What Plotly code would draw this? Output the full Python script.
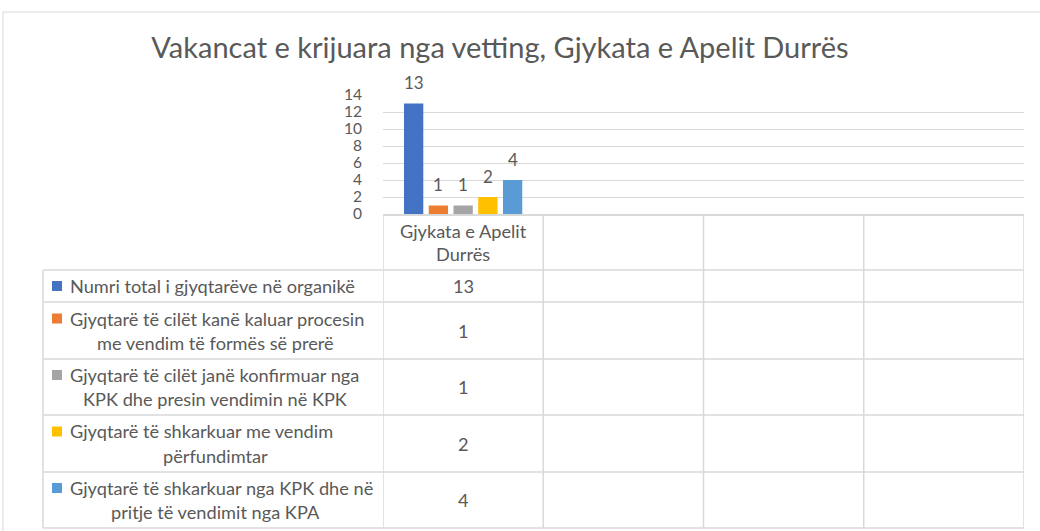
import plotly.graph_objects as go

# ---------------- data ----------------
title_text = "Vakancat e krijuara nga vetting, Gjykata e Apelit Durrës"
categories = ["Gjykata e Apelit\nDurrës", "", "", ""]
series_names = [
    "Numri total i gjyqtarëve në organikë",
    "Gjyqtarë të cilët kanë kaluar procesin\nme vendim të formës së prerë",
    "Gjyqtarë të cilët janë konfirmuar nga\nKPK dhe presin vendimin në KPK",
    "Gjyqtarë të shkarkuar me vendim\npërfundimtar",
    "Gjyqtarë të shkarkuar nga KPK dhe në\npritje të vendimit nga KPA",
]
numri_total = [13, None, None, None]
kaluar_procesin = [1, None, None, None]
konfirmuar_kpk = [1, None, None, None]
shkarkuar_perfundimtar = [2, None, None, None]
shkarkuar_kpk = [4, None, None, None]
series_values = [numri_total, kaluar_procesin, konfirmuar_kpk,
                 shkarkuar_perfundimtar, shkarkuar_kpk]
colors = ["#4472C4", "#ED7D31", "#A5A5A5", "#FFC000", "#5B9BD5"]
y_ticks = [0, 2, 4, 6, 8, 10, 12, 14]

# ---------------- layout helpers (pixels) ----------------
W, H = 1040, 531
L, R, T, B = 383, 1024, 95, 214
TEXT = "#595959"
GRID = "#D9D9D9"
FONT = "Lato"
TS = 18.2  # table text size
BARGAP, GROUPGAP = 0.228, 0.22


def px(x):
    return (x - L) / (R - L)


def py(y):
    return (B - y) / (B - T)


row_edges = [270, 302, 359, 415, 472, 528]
label_left = 43
key_x = 52
text_x = 68
wrap_center = 215
line_gap = 24

xs = list(range(len(categories)))
n_series = len(series_names)
slot = (1 - BARGAP) / n_series

fig = go.Figure()
annotations = []
for s, (name, vals, col) in enumerate(zip(series_names, series_values, colors)):
    fig.add_trace(go.Bar(
        x=xs, y=vals, name=name.replace("\n", " "),
        marker=dict(color=col, line=dict(width=0)),
    ))
    # data labels above bars
    for i, v in enumerate(vals):
        if v is not None:
            annotations.append(dict(
                xref="x", yref="y", x=i + (s - (n_series - 1) / 2) * slot, y=v,
                text=str(v), showarrow=False, xanchor="center",
                yanchor="middle", yshift=21,
                font=dict(family=FONT, size=17, color=TEXT)))

shapes = []
# outer chart border
shapes.append(dict(type="rect", xref="paper", yref="paper",
                   x0=px(3), x1=px(1046), y0=py(545), y1=py(12),
                   line=dict(color=GRID, width=1), layer="below"))
# horizontal table lines
for ye in row_edges:
    shapes.append(dict(type="line", xref="paper", yref="paper",
                       x0=px(label_left), x1=1, y0=py(ye), y1=py(ye),
                       line=dict(color=GRID, width=1.5)))
# left edge of label column
shapes.append(dict(type="line", xref="paper", yref="paper",
                   x0=px(label_left), x1=px(label_left),
                   y0=py(row_edges[0]), y1=py(row_edges[-1]),
                   line=dict(color=GRID, width=1.5)))
# vertical category separators
for i in range(len(categories) + 1):
    shapes.append(dict(type="line", xref="x", yref="paper",
                       x0=i - 0.5, x1=i - 0.5, y0=py(B), y1=py(row_edges[-1]),
                       line=dict(color=GRID, width=1.5)))

# category labels (header row)
hdr_mid = (B + row_edges[0]) / 2
for i, cat in enumerate(categories):
    lines = cat.split("\n") if cat else []
    n = len(lines)
    for k, ln in enumerate(lines):
        yc = hdr_mid + (k - (n - 1) / 2) * 23
        annotations.append(dict(xref="x", yref="paper", x=i, y=py(yc),
                                text=ln, showarrow=False, xanchor="center",
                                yanchor="middle",
                                font=dict(family=FONT, size=TS, color=TEXT)))

# series rows
for r, (name, vals, col) in enumerate(zip(series_names, series_values, colors)):
    top, bot = row_edges[r], row_edges[r + 1]
    mid = (top + bot) / 2
    lines = name.split("\n")
    n = len(lines)
    for k, ln in enumerate(lines):
        yc = mid + (k - (n - 1) / 2) * line_gap
        if k == 0:
            annotations.append(dict(xref="paper", yref="paper", x=px(text_x),
                                    y=py(yc), text=ln, showarrow=False,
                                    xanchor="left", yanchor="middle",
                                    font=dict(family=FONT, size=TS, color=TEXT)))
            shapes.append(dict(type="rect", xref="paper", yref="paper",
                               x0=px(key_x), x1=px(key_x + 10),
                               y0=py(yc + 5), y1=py(yc - 5),
                               fillcolor=col, line=dict(width=0)))
        else:
            annotations.append(dict(xref="paper", yref="paper", x=px(wrap_center),
                                    y=py(yc), text=ln, showarrow=False,
                                    xanchor="center", yanchor="middle",
                                    font=dict(family=FONT, size=TS, color=TEXT)))
    for i, v in enumerate(vals):
        if v is not None:
            annotations.append(dict(xref="x", yref="paper", x=i, y=py(mid),
                                    text=str(v), showarrow=False,
                                    xanchor="center", yanchor="middle",
                                    font=dict(family=FONT, size=TS, color=TEXT)))

fig.update_layout(
    width=W, height=H,
    margin=dict(l=L, r=W - R, t=T, b=H - B, pad=0),
    paper_bgcolor="white", plot_bgcolor="white",
    barmode="group", bargap=BARGAP, bargroupgap=GROUPGAP,
    showlegend=False,
    title=dict(text=title_text, x=500 / W, xref="container", xanchor="center",
               y=1 - 48 / H, yref="container", yanchor="middle",
               font=dict(family=FONT, size=29, color=TEXT)),
    xaxis=dict(range=[-0.5, len(categories) - 0.5], showticklabels=False,
               showgrid=False, zeroline=False, showline=True,
               linecolor=GRID, linewidth=1.5, fixedrange=True),
    yaxis=dict(range=[0, 14], tickvals=y_ticks, showgrid=True,
               gridcolor=GRID, gridwidth=1, zeroline=False, showline=False,
               ticks="", ticklabelstandoff=20,
               tickfont=dict(family=FONT, size=15.5, color=TEXT)),
    shapes=shapes, annotations=annotations,
)

fig.write_html("out.html", config={"displayModeBar": False},
               post_script="document.body.style.margin='0';document.body.style.padding='0';")
